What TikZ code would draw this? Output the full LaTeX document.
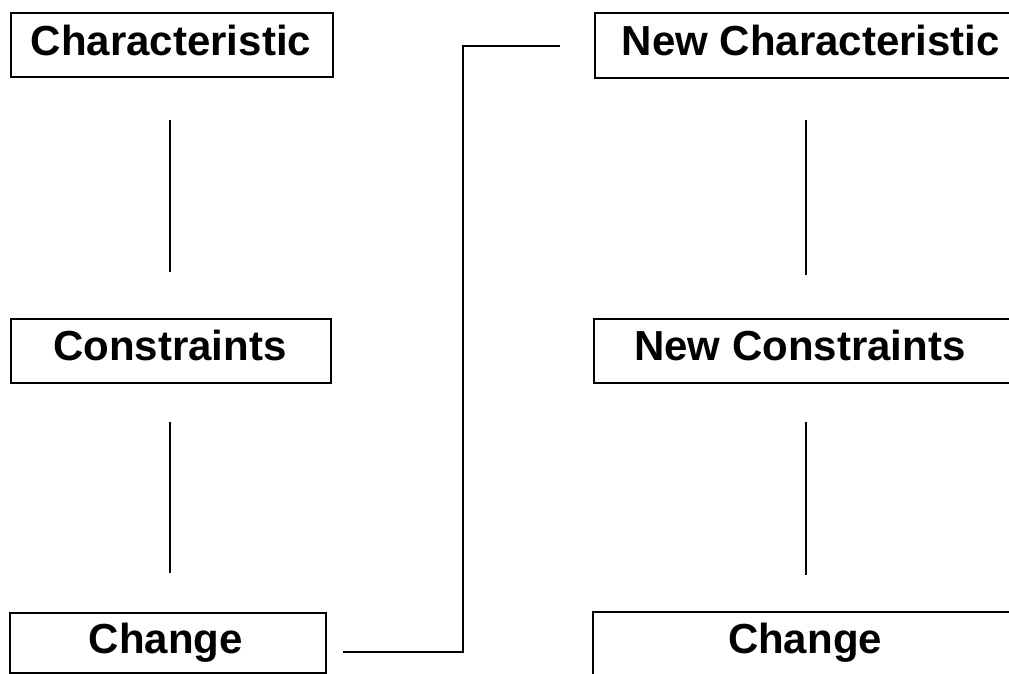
\documentclass[tikz,border=0pt]{standalone}
\usepackage{fontspec}
\setmainfont{Liberation Sans}
\begin{document}
\begin{tikzpicture}[x=1pt,y=1pt,
  box/.style={draw=black, line width=2pt, rectangle, inner sep=0pt, anchor=north west},
  lbl/.style={font=\fontsize{42}{48}\selectfont\bfseries, inner sep=0pt, anchor=base},
  conn/.style={draw=black, line width=2.2pt}]
\useasboundingbox (0,0) rectangle (1009,-673);
\clip (0,0) rectangle (1009,-673);
% left column boxes
\node[box, minimum width=322pt, minimum height=64pt] (ch) at (10,-12) {};
\node[lbl] (tch) at (171,-55) {Characteristic};
\node[box, minimum width=320pt, minimum height=64pt] (co) at (10,-318) {};
\node[lbl] (tco) at (170,-360) {Constraints};
\node[box, minimum width=316pt, minimum height=60pt] (cg) at (9,-612) {};
\node[lbl] (tcg) at (166,-653) {Change};
% right column boxes
\node[box, minimum width=440pt, minimum height=65pt] (nch) at (594,-12) {};
\node[lbl] (tnch) at (811,-55) {New Characteristic};
\node[box, minimum width=440pt, minimum height=64pt] (nco) at (593,-318) {};
\node[lbl] (tnco) at (800,-360) {New Constraints};
\node[box, minimum width=440pt, minimum height=80pt] (ncg) at (592,-611) {};
\node[lbl] (tncg) at (805,-653) {Change};
% vertical connectors (free ends)
\coordinate (l1a) at (170,-120); \coordinate (l1b) at (170,-272);
\coordinate (l2a) at (170,-422); \coordinate (l2b) at (170,-573);
\coordinate (r1a) at (806,-120); \coordinate (r1b) at (806,-275);
\coordinate (r2a) at (806,-422); \coordinate (r2b) at (806,-575);
\draw[conn] (l1a) -- (l1b);
\draw[conn] (l2a) -- (l2b);
\draw[conn] (r1a) -- (r1b);
\draw[conn] (r2a) -- (r2b);
% link from Change to New Characteristic
\coordinate (ka) at (343,-652);
\coordinate (kc) at (463,-46);
\coordinate (kb) at (560,-46);
\draw[conn] (ka) -| (kc) -- (kb);
\end{tikzpicture}
\end{document}
